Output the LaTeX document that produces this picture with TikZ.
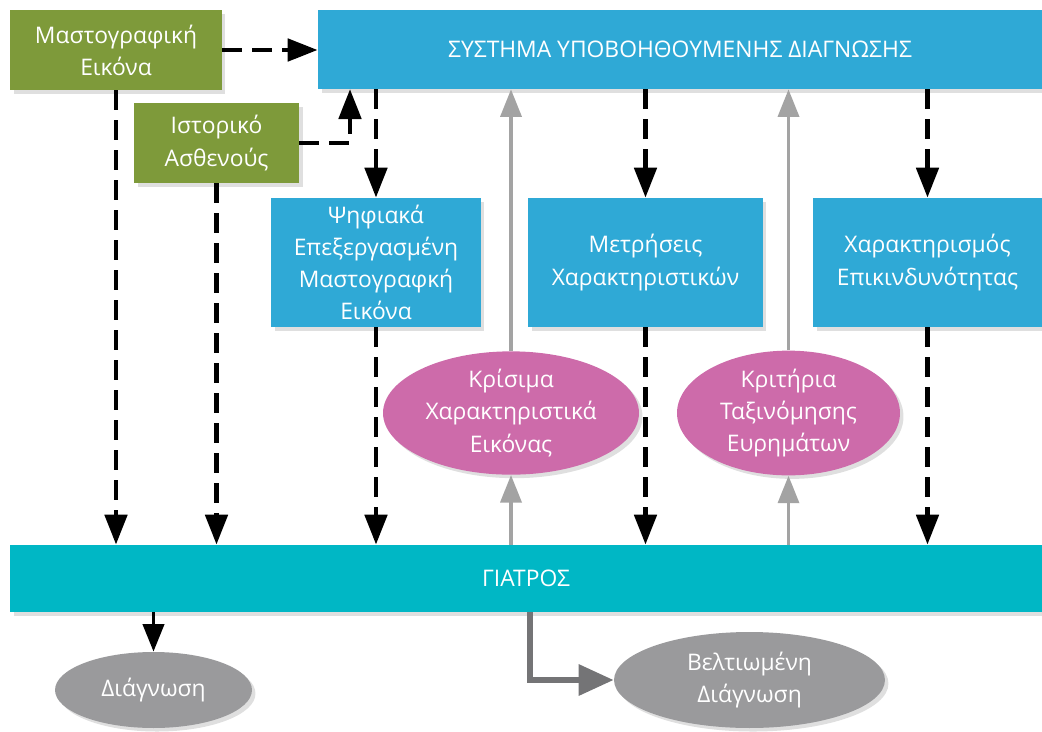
\documentclass[tikz,border=0pt]{standalone}
\usepackage{fontspec}
\setmainfont{Open Sans}
\usetikzlibrary{arrows.meta,shapes.geometric,shadows}

\definecolor{Olive}{HTML}{7E9A3A}
\definecolor{SkyBlue}{HTML}{2FA9D6}
\definecolor{Teal}{HTML}{00B7C5}
\definecolor{Orchid}{HTML}{CD6BAA}
\definecolor{Stone}{HTML}{9A9A9C}
\definecolor{Pipe}{HTML}{A3A3A3}
\definecolor{DarkPipe}{HTML}{747476}

\tikzstyle{card}=[rectangle, inner sep=0pt, text=white, align=center, font=\fontsize{13}{18.3}\selectfont, drop shadow={opacity=0.25, shadow xshift=2pt, shadow yshift=-2pt}]
\tikzstyle{blob}=[card, ellipse]
\tikzstyle{dasharrow}=[line width=2.8pt, black, dash pattern=on 0.4cm off 0.2cm, -{Triangle[length=0.6cm, width=0.44cm]}]
\tikzstyle{greyarrow}=[line width=2pt, Pipe, -{Triangle[length=0.55cm, width=0.42cm]}]

\begin{document}
\begin{tikzpicture}[x=0.02cm, y=-0.02cm]
      \useasboundingbox (0,0) rectangle (1042,731);

      \node (mammo) at (116,50) [card, fill=Olive, minimum width=4.24cm, minimum height=1.6cm] {Μαστογραφική\\Εικόνα};
      \node (history) at (216.5,143) [card, fill=Olive, minimum width=3.3cm, minimum height=1.6cm] {Ιστορικό\\Ασθενούς};
      \node (cad) at (680,49.5) [card, fill=SkyBlue, minimum width=14.48cm, minimum height=1.58cm] {ΣΥΣΤΗΜΑ ΥΠΟΒΟΗΘΟΥΜΕΝΗΣ ΔΙΑΓΝΩΣΗΣ};

      \node (scan) at (376,262.5) [card, fill=SkyBlue, minimum width=4.2cm, minimum height=2.58cm] {Ψηφιακά\\Επεξεργασμένη\\Μαστογραφκή\\Εικόνα};
      \node (measure) at (645.5,262.5) [card, fill=SkyBlue, minimum width=4.7cm, minimum height=2.58cm] {Μετρήσεις\\Χαρακτηριστικών};
      \node (risk) at (927.5,262.5) [card, fill=SkyBlue, minimum width=4.58cm, minimum height=2.58cm] {Χαρακτηρισμός\\Επικινδυνότητας};

      \node (crit) at (511,413) [blob, fill=Orchid, minimum width=5.12cm, minimum height=2.32cm] {Κρίσιμα\\Χαρακτηριστικά\\Εικόνας};
      \node (class) at (788.5,413) [blob, fill=Orchid, minimum width=4.46cm, minimum height=2.32cm] {Κριτήρια\\Ταξινόμησης\\Ευρημάτων};

      \node (doctor) at (526,578.5) [card, fill=Teal, minimum width=20.64cm, minimum height=1.34cm] {ΓΙΑΤΡΟΣ};

      \node (diag) at (153.5,690) [blob, fill=Stone, minimum width=3.94cm, minimum height=1.52cm] {Διάγνωση};
      \node (better) at (749.5,680) [blob, fill=Stone, minimum width=5.42cm, minimum height=1.92cm] {Βελτιωμένη\\Διάγνωση};

      \coordinate (cadin) at (350,89);
      \coordinate (doctorout) at (530,612);

      % inputs to the system
      \draw[dasharrow] (mammo.east) -- (mammo.east -| cad.west);
      \draw[dasharrow] (history.east) -| (cadin);

      % system outputs
      \draw[dasharrow] (cad.south -| scan.north) -- (scan.north);
      \draw[dasharrow] (cad.south -| measure.north) -- (measure.north);
      \draw[dasharrow] (cad.south -| risk.north) -- (risk.north);

      % everything reaches the doctor
      \draw[dasharrow] (mammo.south) -- (mammo.south |- doctor.north);
      \draw[dasharrow] (history.south) -- (history.south |- doctor.north);
      \draw[dasharrow] (scan.south) -- (scan.south |- doctor.north);
      \draw[dasharrow] (measure.south) -- (measure.south |- doctor.north);
      \draw[dasharrow] (risk.south) -- (risk.south |- doctor.north);

      % feedback from the doctor
      \draw[greyarrow] (doctor.north -| crit.south) -- (crit.south);
      \draw[greyarrow] (crit.north) -- (crit.north |- cad.south);
      \draw[greyarrow] (doctor.north -| class.south) -- (class.south);
      \draw[greyarrow] (class.north) -- (class.north |- cad.south);

      \draw[line width=2.2pt, black, -{Triangle[length=0.55cm, width=0.42cm]}] (doctor.south -| diag.north) -- (diag.north);
      \draw[line width=3.6pt, DarkPipe, -{Triangle[length=0.7cm, width=0.6cm]}] (doctorout) |- (better.west);
    \end{tikzpicture}
\end{document}
